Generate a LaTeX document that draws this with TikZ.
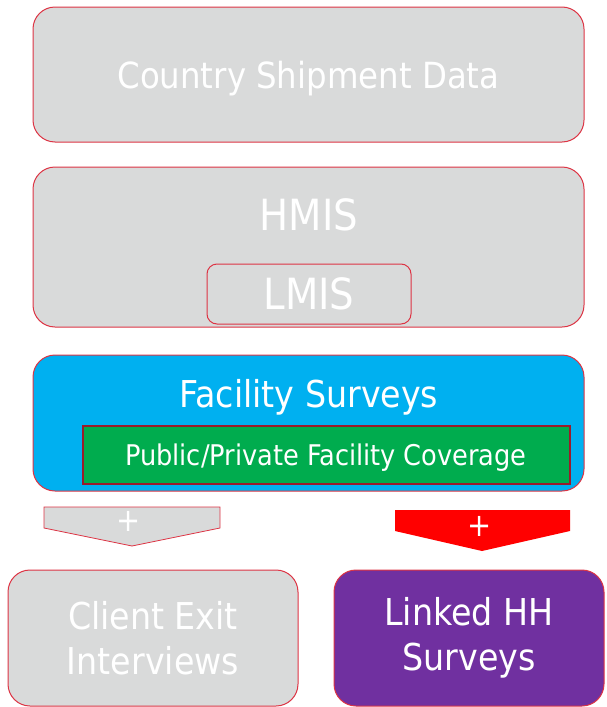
\documentclass[tikz,border=0pt]{standalone}
\usepackage{fontspec}
\setmainfont{DejaVu Sans Condensed}
\usepackage{tikz}
\usetikzlibrary{positioning}

\definecolor{boxgray}{HTML}{D9DADA}
\definecolor{edgered}{HTML}{DD3444}
\definecolor{survblue}{HTML}{00B0F0}
\definecolor{covgreen}{HTML}{00AC4E}
\definecolor{darkred}{HTML}{9A1B2B}
\definecolor{hhpurple}{HTML}{7030A0}

\tikzset{
  box/.style={draw=edgered, line width=1pt, rounded corners=22pt, text=white, align=center, inner sep=0pt},
  bigtext/.style={font=\fontsize{37}{45}\selectfont},
  mistext/.style={font=\fontsize{43}{45}\selectfont},
  plus/.style={text=white, font=\fontsize{32}{32}\selectfont, inner sep=0pt},
}

\begin{document}
\begin{tikzpicture}[x=1pt, y=-1pt]
        \def\boxw{551pt}
        \useasboundingbox (0,0) rectangle (606,707);

        % top three layers
        \node[box, fill=boxgray, text depth=0pt, minimum width=\boxw, minimum height=135pt,
              font=\fontsize{36}{40}\selectfont] (ship) at (308.5,74.5) {Country Shipment Data};
        \node[box, fill=boxgray, minimum width=\boxw, minimum height=160pt] (hmisbox) at (308.5,247) {};
        \node[mistext, text=white] (hmis) at (309,215) {HMIS};
        \node[box, mistext, fill=boxgray, rounded corners=10pt, minimum width=204pt, minimum height=60pt] (lmis) at (309,294) {LMIS};

        \node[box, fill=survblue, minimum width=\boxw, minimum height=136pt] (fac) at (308.5,423) {};
        \node[bigtext, text=white] (factext) at (309,397) {Facility Surveys};
        \node[draw=darkred, line width=2pt, fill=covgreen, text=white, text depth=0pt, minimum width=487pt, minimum height=58pt,
              font=\fontsize{28.5}{30}\selectfont] (cov) at (326,454.5) {Public/Private Facility Coverage};

        % chevrons
        \draw[draw=edgered, fill=boxgray, line width=0.8pt] (44,507) -- (220,507) -- (220,528) -- (132,546) -- (44,528) -- cycle;
        \node[plus] (plusl) at (129,521) {+};
        \fill[red] (395,510) -- (570,510) -- (570,531) -- (482,551) -- (395,531) -- cycle;
        \node[plus] (plusr) at (480,526) {+};

        % bottom
        \node[box, bigtext, fill=boxgray, minimum width=290pt, minimum height=136pt] (exit) at (153,638) {Client Exit\\Interviews};
        \node[box, bigtext, fill=hhpurple, minimum width=270pt, minimum height=136pt] (hh) at (469,638) {Linked HH\\Surveys};
\end{tikzpicture}
\end{document}
